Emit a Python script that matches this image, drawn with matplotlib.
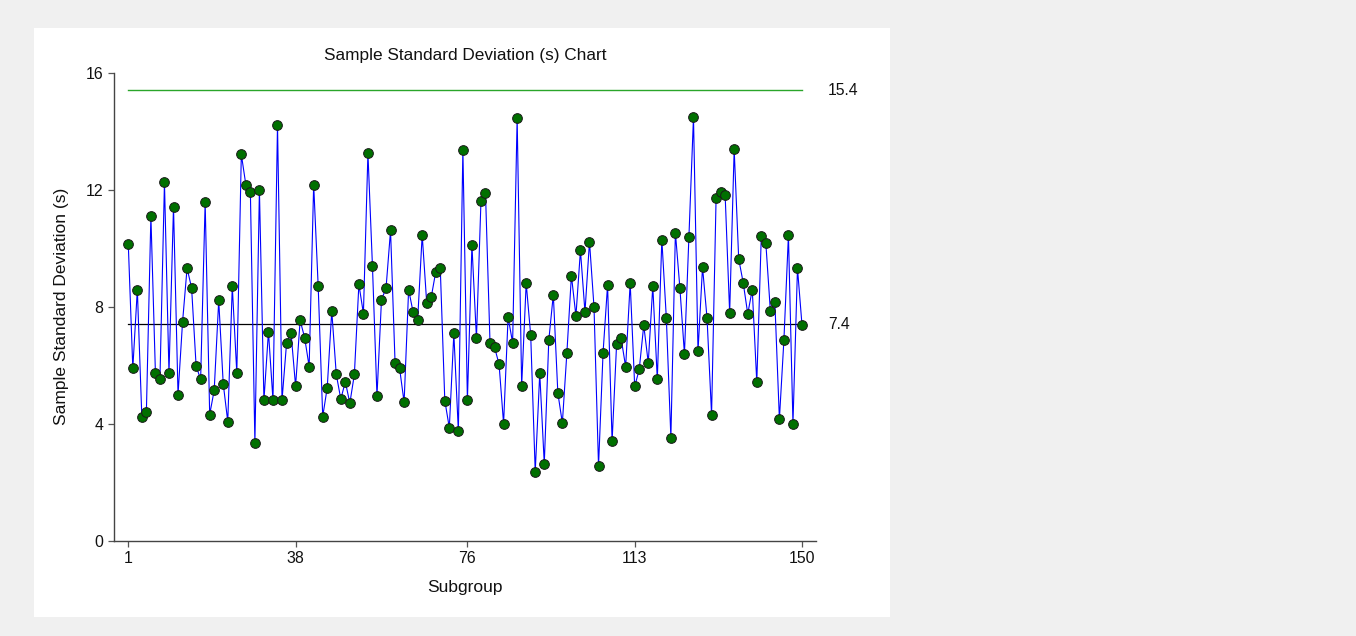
import matplotlib
matplotlib.use("Agg")
import matplotlib.pyplot as plt
from matplotlib.patches import Rectangle

plt.rcParams['font.family'] = ['Liberation Sans', 'DejaVu Sans']

subgroups = list(range(1, 151))
s_values = [
    10.14, 5.90, 8.59, 4.22, 4.40, 11.10, 5.74, 5.52, 12.25, 5.74,
    11.42, 5.00, 7.48, 9.32, 8.65, 5.98, 5.52, 11.58, 4.32, 5.15,
    8.22, 5.37, 4.08, 8.70, 5.74, 13.21, 12.17, 11.94, 3.36, 11.99,
    4.81, 7.15, 4.81, 14.22, 4.81, 6.75, 7.10, 5.29, 7.54, 6.95,
    5.96, 12.18, 8.70, 4.25, 5.24, 7.86, 5.69, 4.85, 5.44, 4.71,
    5.69, 8.77, 7.77, 13.25, 9.39, 4.95, 8.25, 8.63, 10.61, 6.09,
    5.90, 4.74, 8.59, 7.81, 7.56, 10.46, 8.13, 8.33, 9.20, 9.32,
    4.80, 3.87, 7.09, 3.75, 13.37, 4.81, 10.11, 6.93, 11.62, 11.90,
    6.77, 6.62, 6.04, 4.01, 7.65, 6.77, 14.45, 5.30, 8.81, 7.03,
    2.36, 5.73, 2.64, 6.86, 8.42, 5.06, 4.03, 6.43, 9.07, 7.69,
    9.93, 7.82, 10.23, 7.99, 2.56, 6.43, 8.75, 3.40, 6.74, 6.92,
    5.95, 8.82, 5.28, 5.86, 7.37, 6.09, 8.71, 5.52, 10.30, 7.61,
    3.53, 10.54, 8.63, 6.39, 10.39, 14.48, 6.48, 9.36, 7.61, 4.32,
    11.73, 11.92, 11.83, 7.79, 13.38, 9.64, 8.82, 7.76, 8.59, 5.42,
    10.43, 10.18, 7.87, 8.16, 4.16, 6.87, 10.45, 4.01, 9.32, 7.38,
]
ucl = 15.4
center = 7.4
x_ticks = [1, 38, 76, 113, 150]
y_ticks = [0, 4, 8, 12, 16]

W, H = 1356, 636
fig = plt.figure(figsize=(W / 100, H / 100), dpi=100, facecolor='#f0f0f0')
panel = Rectangle((34 / W, 1 - 617 / H), (890 - 34) / W, (617 - 28) / H,
                  transform=fig.transFigure, facecolor='white',
                  edgecolor='none', zorder=-10)
fig.add_artist(panel)

ax = fig.add_axes([114 / W, 1 - 541 / H, (815.7 - 114) / W, (541 - 72.7) / H])
ax.set_zorder(5)
ax.set_facecolor('none')

ax.plot([subgroups[0], subgroups[-1]], [ucl, ucl], color='#2aa52a', lw=1.0, zorder=2)
ax.plot([subgroups[0], subgroups[-1]], [center, center], color='black', lw=0.9, zorder=2)
ax.plot(subgroups, s_values, color='#0000ff', lw=0.8, zorder=3)
ax.plot(subgroups, s_values, linestyle='none', marker='o', markersize=7,
        markerfacecolor='#007000', markeredgecolor='#1a1a1a', markeredgewidth=0.7, zorder=4)

ax.set_xlim(-2.16, 153.03)
ax.set_ylim(0, 16)
ax.set_xticks(x_ticks)
ax.set_yticks(y_ticks)
for sp in ['top', 'right']:
    ax.spines[sp].set_visible(False)
for sp in ['left', 'bottom']:
    ax.spines[sp].set_color('#444444')
    ax.spines[sp].set_linewidth(1.0)
ax.tick_params(direction='out', length=4, width=0.9, color='#555555',
               labelsize=11.4, labelcolor='#111111', pad=3.5)

for val in (ucl, center):
    ax.annotate(f"{val:.1f}", xy=(1, val), xycoords=('axes fraction', 'data'),
                xytext=(9, 0), textcoords='offset points', va='center', ha='left',
                fontsize=11.3, color='#111111')

ax.set_title("Sample Standard Deviation (s) Chart", fontsize=12.4, color='#111111', pad=9)
ax.set_xlabel("Subgroup", fontsize=12.5, color='#111111', labelpad=10)
ax.set_ylabel("Sample Standard Deviation (s)", fontsize=12.5, color='#111111', labelpad=12)

fig.savefig("out.png", dpi=100, facecolor=fig.get_facecolor())
